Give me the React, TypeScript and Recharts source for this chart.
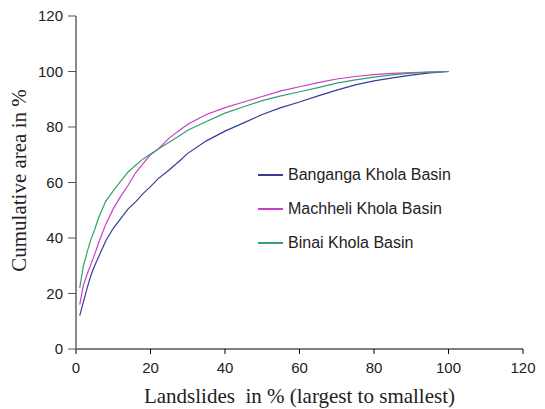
import React from 'react';
import { LineChart, Line, XAxis, YAxis } from 'recharts';

const landslidePct = [1, 2, 3, 4, 5, 6, 8, 10, 12, 14, 16, 18, 20, 22, 25, 28, 30, 35, 40, 45, 50, 55, 60, 65, 70, 75, 80, 85, 90, 95, 100];

const banganga = [12, 17, 22, 26.5, 30, 33, 39, 43.5, 47, 50.5, 53, 56, 58.5, 61.3, 64.5, 68, 70.5, 75, 78.5, 81.5, 84.5, 87, 89, 91.2, 93.3, 95.2, 96.6, 97.7, 98.7, 99.5, 100];
const machheli = [16, 23, 27, 30.5, 34, 38, 45, 50.5, 55, 59, 63.5, 66.8, 70, 72, 76, 79, 81, 84.5, 87, 89, 91, 93, 94.5, 96, 97.3, 98.2, 98.9, 99.3, 99.6, 99.8, 100];
const binai = [22, 30, 35, 39.5, 43, 47, 53.3, 57, 60.5, 63.8, 66.2, 68.5, 70.3, 72, 74.5, 77, 78.8, 82, 85, 87.3, 89.5, 91.2, 92.7, 94.2, 95.8, 97, 98, 98.8, 99.4, 99.8, 100];

const xTicks = [0, 20, 40, 60, 80, 100, 120];
const yTicks = [0, 20, 40, 60, 80, 100, 120];

const seriesInfo = [
  { key: 'banganga', name: 'Banganga Khola Basin', color: '#3a3a9c' },
  { key: 'machheli', name: 'Machheli Khola Basin', color: '#CC3CC8' },
  { key: 'binai', name: 'Binai Khola Basin', color: '#33A070' },
];

const data = landslidePct.map((x, i) => ({
  x,
  banganga: banganga[i],
  machheli: machheli[i],
  binai: binai[i],
}));

// legend sits inside the plot, drawn as an overlay
const LegendBox = () => (
  <div
    style={{
      position: 'absolute',
      left: 258,
      top: 158,
      fontFamily: 'Liberation Sans, Arial, sans-serif',
      fontSize: 16,
      color: '#222',
    }}
  >
    {seriesInfo.map((s) => (
      <div key={s.key} style={{ display: 'flex', alignItems: 'center', height: 34 }}>
        <div style={{ width: 25, height: 1.5, background: s.color, marginRight: 5 }} />
        <span>{s.name}</span>
      </div>
    ))}
  </div>
);

const tickStyle = { fontFamily: 'Liberation Sans, Arial, sans-serif', fontSize: 15, fill: '#222' };
const serif = 'Liberation Serif, Times New Roman, serif';

export default function App() {
  return (
    <div style={{ position: 'absolute', left: 0, top: 0, width: 545, height: 409, background: '#fff' }}>
      <LineChart width={545} height={409} data={data} margin={{ top: 16, right: 22, bottom: 0, left: 0 }}>
        <XAxis
          dataKey="x"
          type="number"
          domain={[0, 120]}
          ticks={xTicks}
          height={60}
          tick={tickStyle}
          tickSize={5}
          tickMargin={8}
          stroke="#000"
          tickLine={{ stroke: '#000' }}
          label={{
            value: 'Landslides\u00a0\u00a0in % (largest to smallest)',
            position: 'insideBottom',
            offset: 6,
            style: { fontFamily: serif, fontSize: 21, fill: '#222' },
          }}
        />
        <YAxis
          type="number"
          domain={[0, 120]}
          ticks={yTicks}
          width={76}
          tick={tickStyle}
          tickSize={8}
          tickMargin={5}
          stroke="#888"
          strokeWidth={2}
          tickLine={{ stroke: '#555', strokeWidth: 1 }}
          label={{
            value: 'Cumulative area in %',
            angle: -90,
            position: 'insideLeft',
            offset: 19,
            dy: -2,
            style: { textAnchor: 'middle', fontFamily: serif, fontSize: 21, fill: '#222' },
          }}
        />
        {seriesInfo.map((s) => (
          <Line
            key={s.key}
            dataKey={s.key}
            name={s.name}
            stroke={s.color}
            strokeWidth={1.2}
            dot={false}
            isAnimationActive={false}
            type="linear"
          />
        ))}
      </LineChart>
      <LegendBox />
    </div>
  );
}
